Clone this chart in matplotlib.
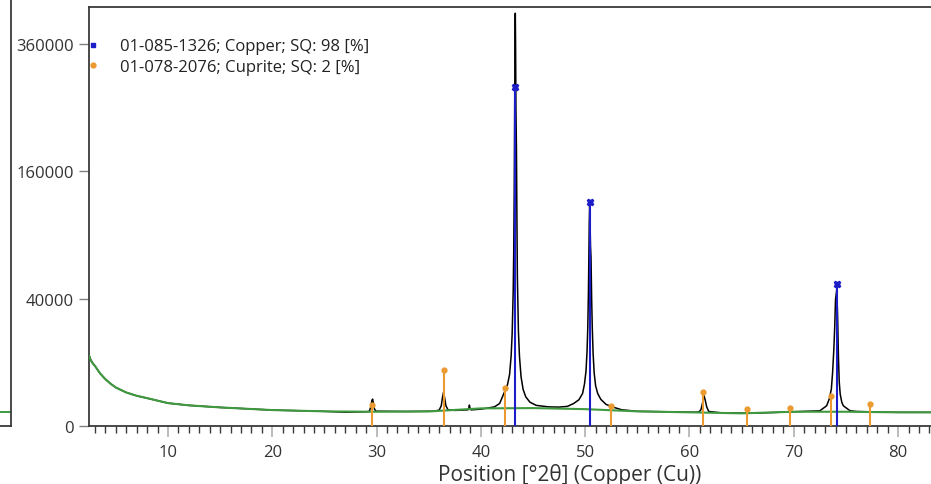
import matplotlib
matplotlib.use('Agg')
import matplotlib.pyplot as plt
from matplotlib.lines import Line2D
import numpy as np

plt.rcParams['font.family'] = ['Open Sans', 'DejaVu Sans']

obs_x = [2.43, 2.6, 2.8, 3.0, 3.5, 4.0, 4.5, 5.0, 6.0, 7.0, 8.0, 10.0, 12.0,
         15.0, 20.0, 25.0, 27.0, 29.0, 29.3, 29.45, 29.55, 29.62, 29.7, 29.8,
         29.95, 33.0, 35.5, 36.0, 36.2, 36.32, 36.42, 36.52, 36.65, 36.85,
         37.5, 38.75, 38.85, 38.9, 38.95, 39.05, 40.0, 41.3, 41.8, 42.3, 42.55,
         42.75, 42.9, 43.0, 43.1, 43.15, 43.2, 43.24, 43.27, 43.3, 43.33, 43.36,
         43.41, 43.46, 43.5, 43.6, 43.7, 43.85, 44.05, 44.3, 44.7, 45.3, 46.5,
         47.5, 48.3, 48.9, 49.4, 49.75, 49.93, 50.08, 50.18, 50.25, 50.31,
         50.35, 50.39, 50.43, 50.47, 50.51, 50.56, 50.62, 50.68, 50.76, 50.86,
         51.0, 51.2, 51.5, 52.0, 52.6, 53.5, 55.0, 60.5, 60.9, 61.1, 61.25,
         61.4, 61.5, 61.65, 61.85, 63.0, 66.0, 70.0, 72.5, 73.15, 73.4, 73.6,
         73.72, 73.84, 73.93, 74.0, 74.12, 74.2, 74.28, 74.36, 74.45, 74.6,
         74.75, 75.4, 76.0, 78.0, 80.0, 83.5]
obs_y = [12500, 10800, 9700, 8900, 6800, 5400, 4400, 3650, 2770, 2250, 1910,
         1290, 1050, 850, 625, 528, 470, 500, 520, 900, 1600, 1780, 1300, 700,
         540, 520, 540, 620, 1000, 2000, 2800, 2000, 1000, 650,
         600, 640, 800, 1080, 800, 640, 700, 900, 1250, 3000, 4200,
         6500, 12000, 21000, 45000, 75000, 138000, 242000, 354000, 420000,
         354000, 250000, 190000, 100000, 55000, 22000, 12000, 6000, 3300, 2100,
         1400, 1050, 900, 880, 950, 1250, 1700, 2600, 4300, 7450, 13800, 24000,
         43300, 67000, 100400, 120300, 100400, 80000, 70000, 40000, 24000,
         13000, 7000, 4000, 2600, 1750, 1150, 900, 650, 530, 470, 480, 650,
         1300, 2240, 1700, 900, 520, 430, 400, 500, 570, 1006, 1800, 3340,
         7000, 14470, 25000, 39400, 46000, 30000, 12000, 4730, 2500, 1400,
         1006, 570, 520, 480, 460, 460]

# fitted background
bg_x = [2.43, 2.6, 2.8, 3.0, 3.5, 4.0, 4.5, 5.0, 6.0, 7.0, 8.0, 10.0, 12.0,
        15.0, 20.0, 25.0, 30.0, 35.0, 40.0, 45.0, 50.0, 55.0, 60.0, 65.0,
        70.0, 75.0, 80.0, 83.5]
bg_y = [12070, 10600, 9600, 8880, 6800, 5390, 4400, 3650, 2770, 2250, 1910,
        1290, 1050, 850, 625, 528, 500, 520, 765, 790, 700, 528, 460, 394,
        500, 500, 460, 460]

# reference patterns
cu_pos = [43.30, 50.43, 74.13]
cu_int = [283900, 123600, 49900]
cuprite_pos = [29.55, 36.42, 42.30, 52.45, 61.34, 65.53, 69.59, 73.53, 77.33]
cuprite_int = [1110, 7740, 3650, 977, 2770, 705, 790, 2240, 1180]

legend_labels = ['01-085-1326; Copper; SQ: 98 [%]',
                 '01-078-2076; Cuprite; SQ: 2 [%]']
yticks = [0, 40000, 160000, 360000]

BLUE = '#1c1cc8'
ORANGE = '#eb9a32'
GREEN = '#3f9a3f'
SPINE = '#3a3a3a'


def fwd(v):
    return np.sqrt(np.clip(v, 0, None))


fig = plt.figure(figsize=(9.31, 4.85), dpi=100)

# sliver of the neighbouring panel on the left
axl = fig.add_axes([-0.06, 0.1196, 0.0718, 0.95])
axl.plot([0, 1], [400, 400], color=GREEN, lw=1.4)
axl.set_yscale('function', functions=(fwd, np.square))
axl.set_ylim(0, 432700)
axl.set_xlim(0, 1)
axl.set_xticks([]); axl.set_yticks([])
for s in axl.spines.values():
    s.set_color(SPINE); s.set_linewidth(1.3)

ax = fig.add_axes([89/931, 0.1196, 962/931, 0.8639])
ax.set_yscale('function', functions=(fwd, np.square))

ax.plot(obs_x, obs_y, color='black', lw=1.1, zorder=2)
ax.plot(bg_x, bg_y, color=GREEN, lw=1.5, zorder=3)

ax.vlines(cuprite_pos, 0, cuprite_int, color=ORANGE, lw=1.5, zorder=4)
ax.plot(cuprite_pos, cuprite_int, ls='', marker='o', ms=3.5, color=ORANGE, zorder=5)
ax.vlines(cu_pos, 0, cu_int, color=BLUE, lw=1.5, zorder=4)
ax.plot(cu_pos, cu_int, ls='', marker='X', ms=4.5, color=BLUE, zorder=5)

ax.set_xlim(2.43, 94.66)
ax.set_ylim(0, 432700)
ax.set_yticks(yticks)
ax.set_yticklabels([str(t) for t in yticks])
ax.set_xticks(range(10, 81, 10))
ax.set_xticks(range(3, 95), minor=True)
ax.tick_params(axis='x', which='major', length=8, width=1.2, color='#b0b0b0',
               labelsize=12, labelcolor='#333333', pad=5)
ax.tick_params(axis='x', which='minor', length=5, width=1.0, color=SPINE)
ax.tick_params(axis='y', length=7, width=1.0, color='#808080',
               labelsize=12, labelcolor='#333333', pad=4)
for s in ax.spines.values():
    s.set_color(SPINE); s.set_linewidth(1.3)

ax.set_xlabel('Position [°2θ] (Copper (Cu))', fontsize=15, color='#333333', labelpad=2)

handles = [Line2D([], [], ls='', marker='s', ms=3.5, color=BLUE),
           Line2D([], [], ls='', marker='o', ms=3.5, color=ORANGE)]
ax.legend(handles, legend_labels, loc='upper left', bbox_to_anchor=(0.0, 0.925),
          frameon=False, fontsize=12, borderpad=0, borderaxespad=0,
          handlelength=0.48, handletextpad=1.38, labelspacing=0.28,
          labelcolor='#222222')

fig.savefig('out.png', dpi=100)
